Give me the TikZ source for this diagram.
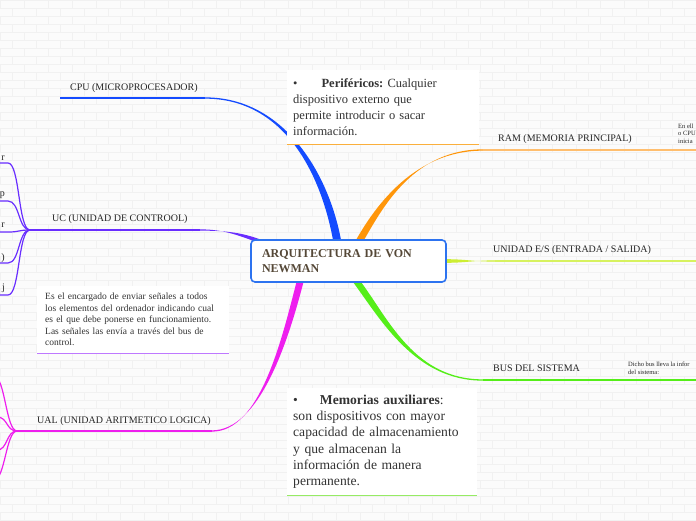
\documentclass[tikz,border=0pt]{standalone}
\usepackage{fontspec}
\setmainfont{Liberation Serif}
\usetikzlibrary{calc}
\frenchspacing
\definecolor{azulcpu}{RGB}{20,75,255}
\definecolor{moradouc}{RGB}{105,45,255}
\definecolor{magentaual}{RGB}{238,30,238}
\definecolor{naranjaram}{RGB}{255,150,10}
\definecolor{naranjaclaro}{RGB}{255,190,110}
\definecolor{verdees}{RGB}{205,238,50}
\definecolor{verdeesclaro}{RGB}{215,242,95}
\definecolor{verdebus}{RGB}{85,238,25}
\definecolor{bordeazul}{RGB}{45,115,240}
\definecolor{textocentro}{RGB}{85,72,55}
\definecolor{fondo}{RGB}{251,251,251}
\definecolor{junta}{RGB}{241,241,241}
\definecolor{rayaperif}{RGB}{250,175,60}
\definecolor{rayamem}{RGB}{150,235,100}
\definecolor{rayauc}{RGB}{190,120,255}
% tapered branch: colour, start, control 1, control 2, end, half width at start
\newcommand{\ramal}[6]{
   \fill[#1] ($(#2)+(#6)$) .. controls ($(#3)+(#6)$) and ($(#4)+(0,-0.65)$) .. ($(#5)+(0,-0.65)$)
      -- ($(#5)+(0,0.65)$) .. controls ($(#4)+(0,0.65)$) and ($(#3)-(#6)$) .. ($(#2)-(#6)$) -- cycle;
}

\begin{document}
\begin{tikzpicture}[x=1pt,y=-1pt,
   etiqueta/.style={font=\fontsize{10}{11}\selectfont, inner sep=0pt, text=black!85, anchor=base west},
   resto/.style={font=\fontsize{10}{11}\selectfont, inner sep=0pt, text=black!85, anchor=base east},
   nota/.style={font=\fontsize{6.5}{7}\selectfont, inner sep=0pt, text=black!85, anchor=base west},
   centro/.style={draw=bordeazul, line width=1.6pt, rounded corners=4pt, fill=white,
      text width=173pt, align=left, inner xsep=11pt, minimum height=42pt,
      font=\fontsize{12}{14.5}\selectfont\bfseries, text=textocentro},
   caja/.style={fill=white, anchor=north west, align=left, inner xsep=6pt, inner ysep=0pt,
      text=black!80, font=\fontsize{13}{16.3}\selectfont},
   hijo/.style={line width=1.2pt},
   raya/.style={line width=1.3pt}]

		% Background
		\clip (0,0) rectangle (696,520);
		\fill[fondo] (0,0) rectangle (696,520);
		\foreach \f in {0,...,65} {
			\draw[junta, line width=0.6pt] (0,\f*8) -- (696,\f*8);
			\pgfmathsetmacro\desp{mod(\f,2)*12}
			\foreach \c in {0,...,29}
				\draw[junta, line width=0.6pt] (\c*24+\desp,\f*8) -- ++(0,8);
		}

		% Points
		\coordinate (p-cpu) at (337,240);
		\coordinate (p-uc) at (262,242);
		\coordinate (p-ual) at (300,282);
		\coordinate (p-ram) at (360,240);
		\coordinate (p-es) at (447,261);
		\coordinate (p-bus) at (357,282);
		\coordinate (cpu) at (205,98);
		\coordinate (cpu-fin) at (60,98);
		\coordinate (uc) at (200,230);
		\coordinate (uc-nudo) at (30,230);
		\coordinate (ual) at (212,431);
		\coordinate (ual-nudo) at (17,431);
		\coordinate (ram) at (483,150);
		\coordinate (ram-fin) at (696,150);
		\coordinate (es) at (495,261);
		\coordinate (es-fin) at (696,261);
		\coordinate (bus) at (483,380);
		\coordinate (bus-fin) at (696,380);

		% Branches
		\ramal{azulcpu}{p-cpu}{325,175}{285,98}{cpu}{4,0}
		\draw[azulcpu, raya] (cpu) -- (cpu-fin);
		\ramal{moradouc}{p-uc}{240,234}{225,230}{uc}{0,2}
		\draw[moradouc, raya] (uc) -- (uc-nudo);
		\draw[moradouc, line width=2.6pt] (uc-nudo) -- ++(16,0);
		\ramal{magentaual}{p-ual}{285,340}{260,431}{ual}{3.5,0}
		\draw[magentaual, raya] (ual) -- (ual-nudo);
		\ramal{naranjaram}{p-ram}{380,205}{415,150}{ram}{4,0}
		\draw[naranjaclaro, raya] (ram) -- (ram-fin);
		\ramal{verdees}{p-es}{465,261}{475,261}{es}{0,1.8}
		\draw[verdeesclaro, raya] (es) -- (es-fin);
		\ramal{verdebus}{p-bus}{385,320}{415,380}{bus}{4,0}
		\draw[verdebus, raya] (bus) -- (bus-fin);

		% UC children
		\coordinate (uc1) at (8,163);
		\coordinate (uc2) at (8,201);
		\coordinate (uc3) at (8,232);
		\coordinate (uc4) at (8,263);
		\coordinate (uc5) at (8,295);
		\foreach \h in {uc1,uc2,uc3,uc4,uc5}
			\draw[moradouc, hijo] (uc-nudo) .. controls +(-12,0) and +(12,0) .. (\h) -- ++(-10,0);

		% UAL children
		\coordinate (ual1) at (-6,376);
		\coordinate (ual2) at (-3,417);
		\coordinate (ual3) at (-3,450);
		\coordinate (ual4) at (-6,480);
		\foreach \h in {ual1,ual2,ual3,ual4}
			\draw[magentaual, hijo] (ual-nudo) .. controls +(-11,0) and +(11,0) .. (\h) -- ++(-10,0);

		% Labels
		\node[etiqueta] (l-cpu) at (70,90.5) {CPU (MICROPROCESADOR)};
		\node[etiqueta] (l-uc) at (52,221.5) {UC (UNIDAD DE CONTROOL)};
		\node[etiqueta] (l-ual) at (37,423.5) {UAL (UNIDAD ARITMETICO LOGICA)};
		\node[etiqueta] (l-ram) at (498,141.5) {RAM (MEMORIA PRINCIPAL)};
		\node[etiqueta] (l-es) at (493,252.5) {UNIDAD E/S (ENTRADA / SALIDA)};
		\node[etiqueta] (l-bus) at (493,371.5) {BUS DEL SISTEMA};
		\node[resto] (r1) at (5,160) {r};
		\node[resto] (r2) at (5,196) {p};
		\node[resto] (r3) at (5,227) {r};
		\node[resto] (r4) at (5,260) {)};
		\node[resto] (r5) at (5,290) {j};

		% Notes
		\node[nota] (n-ram1) at (678,128) {En ell};
		\node[nota] (n-ram2) at (678,135.5) {o CPU};
		\node[nota] (n-ram3) at (678,143) {inicia};
		\node[nota] (n-bus1) at (628,366.5) {Dicho bus lleva la infor};
		\node[nota] (n-bus2) at (628,374.5) {del sistema:};

		% Boxes
		\node[caja, text width=180pt, minimum height=74pt, font=\fontsize{12.5}{16.2}\selectfont] (perif) at (287,70)
			{\textbullet\hspace{24pt}\textbf{Periféricos:} Cualquier\\dispositivo externo que\\permite introducir o sacar\\información.};
		\draw[rayaperif, line width=1pt] (perif.south west) -- (perif.south east);
		\node[caja, text width=178pt, minimum height=107pt, font=\fontsize{13.6}{16.3}\selectfont] (memo) at (287,388)
			{\textbullet\hspace{22pt}\textbf{Memorias auxiliares}:\\son dispositivos con mayor\\capacidad de almacenamiento\\y que almacenan la\\información de manera\\permanente.};
		\draw[rayamem, line width=1pt] (memo.south west) -- (memo.south east);
		\node[caja, text width=176pt, inner xsep=8pt, minimum height=67pt,
			font=\fontsize{9.5}{11.5}\selectfont] (ucdesc) at (37,286)
			{Es el encargado de enviar señales a todos\\los elementos del ordenador indicando cual\\es el que debe ponerse en funcionamiento.\\Las señales las envía a través del bus de\\control.};
		\draw[rayauc, line width=1pt] (ucdesc.south west) -- (ucdesc.south east);

		% Centre
		\node[centro] (arq) at (348.5,261) {ARQUITECTURA DE VON\\NEWMAN};
	\end{tikzpicture}
\end{document}
